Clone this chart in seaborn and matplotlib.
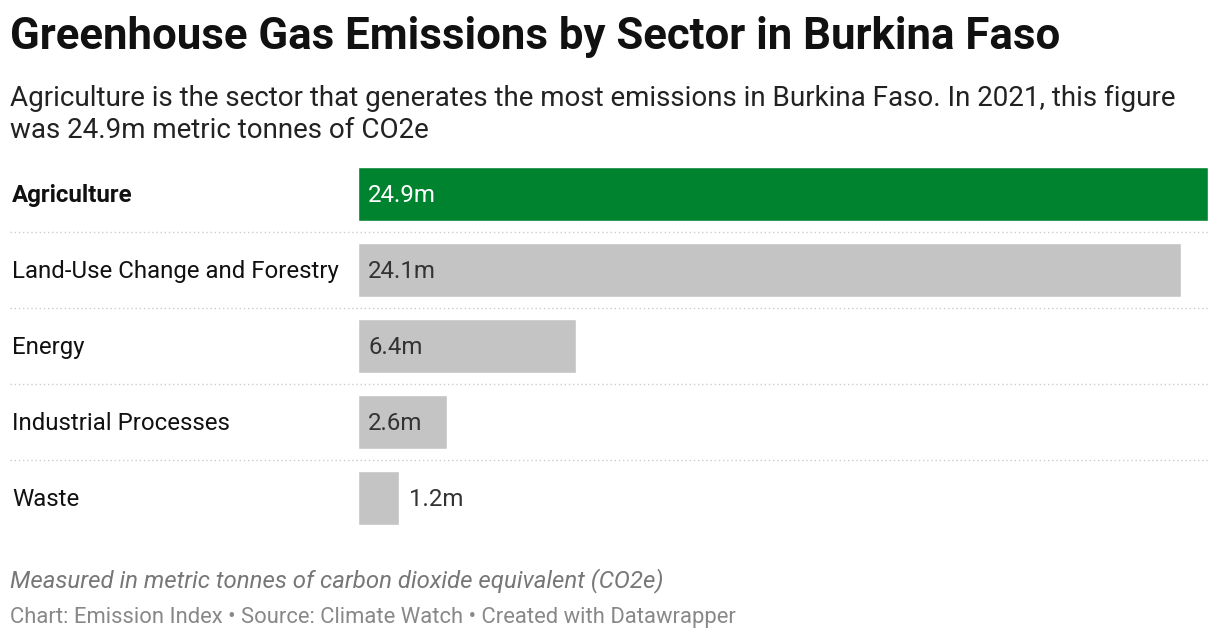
import matplotlib
matplotlib.use("Agg")
import matplotlib.pyplot as plt
import seaborn as sns
import pandas as pd
from matplotlib.transforms import blended_transform_factory
from matplotlib.lines import Line2D

sectors = ["Agriculture", "Land-Use Change and Forestry", "Energy", "Industrial Processes", "Waste"]
values = [24.9, 24.1, 6.4, 2.6, 1.2]
labels = ["24.9m", "24.1m", "6.4m", "2.6m", "1.2m"]
colors = ["#00832f", "#c4c4c4", "#c4c4c4", "#c4c4c4", "#c4c4c4"]

sns.set_style("white")
plt.rcParams['font.family'] = ['Roboto', 'DejaVu Sans']

W, H = 1220, 640
fig = plt.figure(figsize=(W/100, H/100), dpi=100)
ax = fig.add_axes([358/W, 1-536/H, 850/W, 380/H])
df = pd.DataFrame({"sector": sectors, "value": values})
sns.barplot(data=df, x="value", y="sector", hue="sector", palette=colors, legend=False,
            width=0.70, ax=ax, saturation=1)
ax.set_xlim(0, 24.9)
ax.set_ylim(4.5, -0.5)
ax.axis("off")

tr = blended_transform_factory(fig.transFigure, ax.transData)
for i, (s, v, l) in enumerate(zip(sectors, values, labels)):
    fig.text(12/W, i + 0.02, s, transform=tr, va="center", ha="left", fontsize=17.3,
             color="#111111", fontweight="bold" if i == 0 else "normal")
    if v > 2:
        ax.text(0.3, i + 0.02, l, va="center", ha="left", fontsize=17.3,
                color="white" if i == 0 else "#333333")
    else:
        ax.text(v + 0.3, i + 0.02, l, va="center", ha="left", fontsize=17.3, color="#333333")
    if i < len(sectors) - 1:
        fig.add_artist(Line2D([10/W, 1208/W], [i + 0.5, i + 0.5], transform=tr,
                              color="#cccccc", lw=1, ls=(0, (1, 2))))

fig.text(10/W, 1-37/H, "Greenhouse Gas Emissions by Sector in Burkina Faso", fontsize=31.5,
         fontweight="bold", va="center", ha="left", color="#111111")
fig.text(10/W, 1-98/H, "Agriculture is the sector that generates the most emissions in Burkina Faso. In 2021, this figure",
         fontsize=20, va="center", ha="left", color="#222222")
fig.text(10/W, 1-131/H, "was 24.9m metric tonnes of CO2e",
         fontsize=20, va="center", ha="left", color="#222222")
fig.text(10/W, 1-581/H, "Measured in metric tonnes of carbon dioxide equivalent (CO2e)",
         fontsize=17.3, style="italic", va="center", ha="left", color="#777777")
fig.text(10/W, 1-617/H, "Chart: Emission Index \u2022 Source: Climate Watch \u2022 Created with Datawrapper",
         fontsize=15.85, va="center", ha="left", color="#888888")

fig.savefig("out.png", dpi=100, facecolor="white")
